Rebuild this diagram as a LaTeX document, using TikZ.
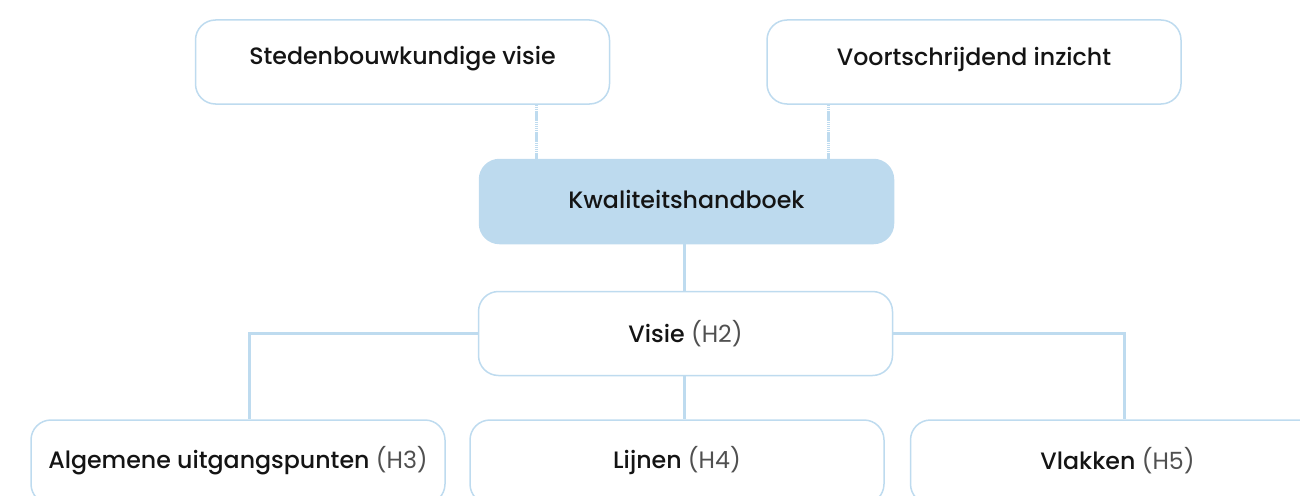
\documentclass[tikz,border=0pt]{standalone}
\usepackage{fontspec}
\setmainfont{Poppins}[BoldFont={Poppins Medium}]
\definecolor{lblue}{RGB}{190,219,239}
\definecolor{kfill}{RGB}{189,218,238}
\definecolor{txt}{RGB}{20,20,20}
\definecolor{gtxt}{RGB}{80,80,80}
\begin{document}
\begin{tikzpicture}[x=1pt,y=-1pt,
  box/.style={draw=lblue, line width=1.5pt, rounded corners=20pt, fill=white,
    minimum width=414pt, minimum height=84pt, inner sep=0pt},
  lbl/.style={text=txt, inner sep=0pt, font=\fontsize{23.7}{26}\selectfont},
  kbox/.style={box, draw=kfill, fill=kfill},
  conn/.style={draw=lblue, line width=3pt},
  dotconn/.style={draw=lblue, line width=3pt, dash pattern=on 1.5pt off 0.6pt}]
\useasboundingbox (0,0) rectangle (1300,495);
\clip (0,0) rectangle (1300,495);
\node[box] (stb) at (402.5,62) {};
\node[box] (voo) at (974,62) {};
\node[kbox] (kw) at (686.5,201.5) {};
\node[box] (vis) at (685.5,333.5) {};
\node[box] (alg) at (238,462) {};
\node[box] (lij) at (677,462) {};
\node[box] (vla) at (1117.5,462) {};
\node[lbl] (tstb) at ([yshift=3pt]stb.center) {\textbf{Stedenbouwkundige visie}};
\node[lbl] (tvoo) at ([yshift=3pt]voo.center) {\textbf{Voortschrijdend inzicht}};
\node[lbl] (tkw) at ([yshift=2.5pt]kw.center) {\textbf{Kwaliteitshandboek}};
\node[lbl] (tvis) at ([yshift=0pt]vis.center) {\textbf{Visie} \textcolor{gtxt}{(H2)}};
\node[lbl] (talg) at ([yshift=1pt]alg.center) {\textbf{Algemene uitgangspunten} \textcolor{gtxt}{(H3)}};
\node[lbl] (tlij) at ([yshift=1pt]lij.center) {\textbf{Lijnen} \textcolor{gtxt}{(H4)}};
\node[lbl] (tvla) at ([yshift=1pt]vla.center) {\textbf{Vlakken} \textcolor{gtxt}{(H5)}};
\draw[dotconn] ([xshift=133.5pt]stb.south) -- ([xshift=133.5pt]stb.south |- kw.north);
\draw[dotconn] ([xshift=-146pt]voo.south) -- ([xshift=-146pt]voo.south |- kw.north);
\draw[conn] ([xshift=-2pt]kw.south) -- ([xshift=-2pt]kw.south |- vis.north);
\draw[conn] (vis.west) -| ([xshift=11pt]alg.north);
\draw[conn] (vis.east) -| ([xshift=6.5pt]vla.north);
\draw[conn] ([xshift=-1.5pt]vis.south) -- ([xshift=-1.5pt]vis.south |- lij.north);
\end{tikzpicture}
\end{document}
